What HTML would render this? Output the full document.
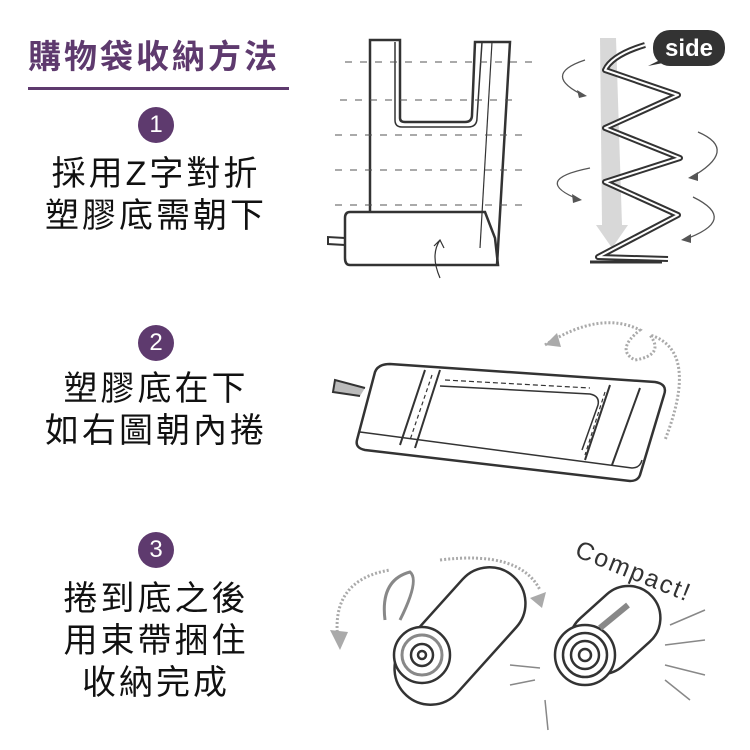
<!DOCTYPE html>
<html><head><meta charset="utf-8"><style>
body{margin:0;width:750px;height:750px;background:#fff;position:relative;overflow:hidden;font-family:"Liberation Sans","Noto Sans CJK TC",sans-serif}
.t{position:absolute;left:28px;top:30px;font-size:33px;font-weight:bold;color:#5e3a6e;letter-spacing:3px;white-space:nowrap}
.hr{position:absolute;left:28px;top:87px;width:261px;height:3px;background:#5e3a6e}
.c{position:absolute;width:36px;height:36px;border-radius:50%;background:#5e3a6e;color:#fff;font-size:24px;line-height:36px;text-align:center;left:138px}
.l{position:absolute;left:0;width:312px;text-align:center;font-size:34px;color:#111;letter-spacing:3px;line-height:42px}
svg{position:absolute;left:0;top:0}
</style></head><body>
<div class="t">購物袋收納方法</div>
<div class="hr"></div>
<div class="c" style="top:107px">1</div>
<div class="l" style="top:153px">採用Z字對折<br>塑膠底需朝下</div>
<div class="c" style="top:325px">2</div>
<div class="l" style="top:368px">塑膠底在下<br>如右圖朝內捲</div>
<div class="c" style="top:532px">3</div>
<div class="l" style="top:578px">捲到底之後<br>用束帶捆住<br>收納完成</div>
<svg width="750" height="750" fill="none" stroke="#333" stroke-width="2.5">
<!-- bag -->
<path d="M370 212 L370 40 L400 40 L400 118 Q400 122 405 122 L465 122 Q472 122 472 115 L475 42 L510 42 L497 265"/>
<path d="M395 42 L395 120 Q395 127 402 127 L468 127 Q477 127 477 118 L482 42" stroke-width="1.5"/>
<path d="M492 42 L480 248" stroke-width="1.2"/>
<path d="M350 212 L485 212 L495 238 L498 265 L350 265 Q345 265 345 258 L345 218 Q345 212 350 212Z"/>
<path d="M345 238 L328 237 L328 244 L345 245" stroke-width="2"/>
<g stroke-dasharray="7 8" stroke-width="1" stroke="#555"><path d="M345 62H535M340 100H520M335 135H530M335 170H525M335 205H525"/></g>
<path d="M440 278 Q430 255 440 240 M434 246 L440 240 L444 248" stroke-width="1.2"/>
<!-- zigzag -->
<path d="M600 38 L616 38 L622 225 L628 225 L612 248 L596 225 L602 225 Z" fill="#d8d8d8" stroke="none"/>
<path d="M645 45 Q612 55 605 70 L678 95 L605 128 L680 158 L605 182 L678 215 L598 257 L668 259" stroke-width="6" stroke-linejoin="round"/>
<path d="M645 45 Q612 55 605 70 L678 95 L605 128 L680 158 L605 182 L678 215 L598 257 L668 259" stroke="#fff" stroke-width="2" stroke-linejoin="round"/>
<path d="M590 262H662" stroke-width="3"/>
<rect x="653" y="30" width="72" height="36" rx="17" fill="#333" stroke="none"/>
<path d="M660 60 L648 66 L668 62Z" fill="#333" stroke="none"/>
<text x="689" y="56" fill="#fff" stroke="none" font-size="24" font-weight="bold" text-anchor="middle" font-family="Liberation Sans">side</text>
<g stroke="#555" stroke-width="1.3"><path d="M585 60 Q540 75 585 96"/><path d="M698 132 Q740 150 690 178"/><path d="M590 168 Q530 180 580 200"/><path d="M693 197 Q740 220 683 240"/></g>
<g fill="#555" stroke="none"><path d="M587 96 l-10 -6 l2 8z"/><path d="M688 178 l10 -6 l0 9z"/><path d="M582 200 l-10 -6 l1 9z"/><path d="M681 240 l10 -6 l0 9z"/></g>
<!-- step 2 -->
<path d="M545 345 Q600 310 640 330 Q615 350 635 360 Q665 355 650 335 Q700 350 665 440" stroke="#aaa" stroke-width="3" stroke-dasharray="2 2"/>
<path d="M545 345 l12 -12 l4 14z" fill="#aaa" stroke="none"/>
<path d="M390 364 L655 382 Q668 384 664 395 L640 475 Q638 481 630 481 L365 450 Q355 448 357 440 L375 372 Q378 364 390 364Z"/>
<path d="M360 432 L632 468 Q640 468 642 460" stroke-width="1.5"/>
<path d="M425 370 L400 445 M440 370 L415 448 M610 385 L585 460 M640 388 L612 465" stroke-width="2"/>
<path d="M440 386 L590 394 Q600 396 598 405 L582 450" stroke-width="1.5"/>
<path d="M445 380 L590 388" stroke-dasharray="5 3" stroke-width="1.2"/>
<path d="M432 375 L410 440 M605 392 L585 455" stroke-dasharray="4 3" stroke-width="1.2"/>
<path d="M365 388 L335 380 L333 392 L360 396" stroke-width="2" fill="#bbb"/>
<!-- step 3 -->
<path d="M338 640 Q330 580 390 570" stroke="#aaa" stroke-width="3" stroke-dasharray="2 2"/>
<path d="M440 560 Q520 550 540 590" stroke="#aaa" stroke-width="3" stroke-dasharray="2 2"/>
<path d="M330 630 l10 20 l8 -18z M530 598 l12 10 l4 -16z" fill="#aaa" stroke="none"/>
<rect x="380" y="600" width="160" height="72" rx="36" transform="rotate(-48 460 636)"/>
<circle cx="422" cy="655" r="28" fill="#fff"/><circle cx="422" cy="655" r="20" stroke-width="3" stroke="#888"/><circle cx="422" cy="655" r="11"/><circle cx="422" cy="655" r="4"/>
<path d="M385 620 Q380 580 410 572 Q420 580 400 620" stroke-width="3" stroke="#888"/>
<rect x="565" y="598" width="100" height="64" rx="32" transform="rotate(-42 615 630)"/>
<circle cx="585" cy="655" r="30" fill="#fff"/><circle cx="585" cy="655" r="22"/><circle cx="585" cy="655" r="14"/><circle cx="585" cy="655" r="6"/>
<path d="M600 628 L628 605" stroke="#888" stroke-width="6"/>
<text x="568" y="575" fill="#333" stroke="none" font-size="25" letter-spacing="2" font-family="Liberation Sans" transform="rotate(22 620 580)">Compact!</text>
<g stroke="#888" stroke-width="1.5"><path d="M665 645L705 640M665 665L705 675M665 680L690 700M670 625L705 610M510 665L540 668M510 685L535 680M545 700L548 730"/></g>
</svg>
</body></html>
